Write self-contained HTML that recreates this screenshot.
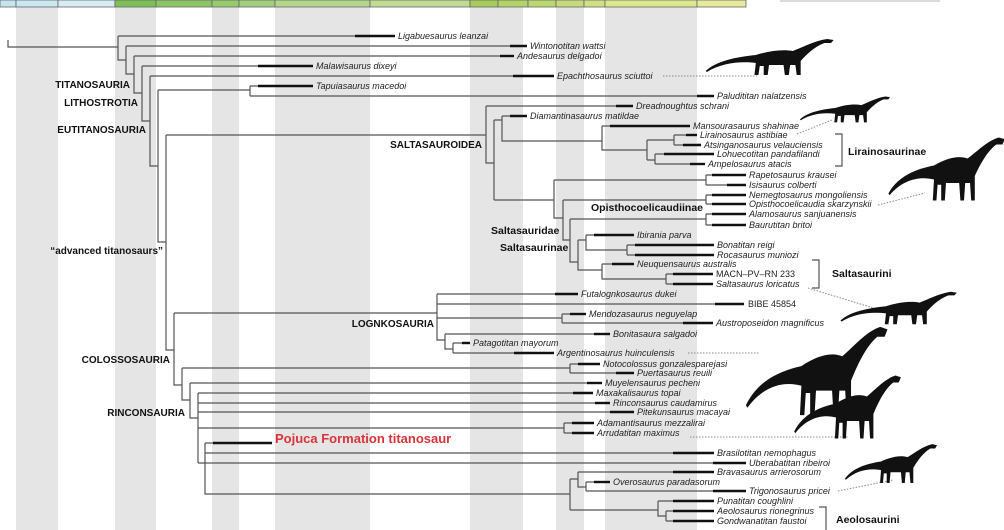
<!DOCTYPE html>
<html><head><meta charset="utf-8">
<style>
html,body{margin:0;padding:0;background:#fff;}
svg{display:block;}
.t{stroke:#555;stroke-width:1.2;fill:none;}
.k{stroke:#111;stroke-width:2.4;}
.d{stroke:#888;stroke-width:1;stroke-dasharray:1.5 1.5;fill:none;}
text{font-family:"Liberation Sans",sans-serif;}
.n{font-size:9px;font-style:italic;fill:#222;}
.r{font-size:9px;fill:#222;}
.c{font-size:10px;font-weight:bold;fill:#111;}
.cm{font-size:10.5px;font-weight:bold;fill:#111;}
</style></head><body>
<svg width="1004" height="530" viewBox="0 0 1004 530" xmlns="http://www.w3.org/2000/svg">
<defs>
<path id="sp" d="M2,34 C10,24 25,20 40,18 C50,14 60,12 68,14 C76,10 84,4 94,2 L99,3 L97,6 L92,6 C84,10 78,18 74,24 L74,38 L71,38 L70,28 L66,28 L65,38 L62,38 L61,28 L50,28 L49,38 L46,38 L46,29 L43,29 L42,38 L39,38 L40,26 C28,24 14,26 3,35 Z"/>
</defs>
<!-- stripes -->
<g fill="#e5e5e5">
<rect x="16" y="7" width="42" height="523"/>
<rect x="115" y="7" width="41" height="523"/>
<rect x="212" y="7" width="27" height="523"/>
<rect x="275" y="7" width="95" height="523"/>
<rect x="470" y="7" width="53" height="523"/>
<rect x="556" y="7" width="28" height="523"/>
<rect x="605" y="7" width="92" height="523"/>
</g>
<!-- top bar -->
<g stroke="#666" stroke-width="0.8">
<rect x="0" y="0" width="16" height="7" fill="#c6e3ee"/>
<rect x="16" y="0" width="42" height="7" fill="#cbe7f0"/>
<rect x="58" y="0" width="57" height="7" fill="#d6ebf3"/>
<rect x="115" y="0" width="41" height="7" fill="#7fbf5a"/>
<rect x="156" y="0" width="56" height="7" fill="#8cc566"/>
<rect x="212" y="0" width="27" height="7" fill="#97c96f"/>
<rect x="239" y="0" width="36" height="7" fill="#a2cf7c"/>
<rect x="275" y="0" width="95" height="7" fill="#b3d68a"/>
<rect x="370" y="0" width="100" height="7" fill="#c0dc93"/>
<rect x="470" y="0" width="28" height="7" fill="#a8cc5c"/>
<rect x="498" y="0" width="30" height="7" fill="#b4d268"/>
<rect x="528" y="0" width="28" height="7" fill="#bcd672"/>
<rect x="556" y="0" width="28" height="7" fill="#c6da7d"/>
<rect x="584" y="0" width="21" height="7" fill="#cfe085"/>
<rect x="605" y="0" width="92" height="7" fill="#dce88f"/>
<rect x="697" y="0" width="49" height="7" fill="#e6eb9c"/>
</g>
<rect x="780" y="0" width="160" height="2" fill="#ddd"/>

<!-- tree skeleton -->
<path class="t" d="
M8,40 V47 H118
M118,36 V60 H126
M126,46 V74 H134
M134,56 V93 H142
M142,66 V121 H150
M150,76 V166 H158
M158,90 V242 H166
M158,90 H250 M250,86 V96
M166,135 V350 H174
M166,135 H486
M486,106 V163 H494
M494,120 V200
M494,120 H502 M502,116 V141 H602
M602,126 V150 H647
M647,140 V160
M647,140 H674 M674,135 V145
M647,160 H655 M655,154 V164
M494,200 H554 M554,180 V218 H563
M554,180 H706 M706,175 V185
M563,200 V240 H570
M563,200 H706 M706,195 V204
M570,219 V262 H578
M570,219 H706 M706,214 V225
M578,240 V270 H602
M578,240 H586 M586,235 V250 H627 M627,245 V255
M602,264 V279 H666 M666,274 V284
M174,313 V385 H182
M174,313 H437 M437,294 V340 H445
M437,318 H562 M562,314 V323
M445,334 V349 H453 M453,343 V353
M182,368 V400 H190
M182,368 H570 M570,364 V373
M190,383 V418 H198
M198,393 V463
M198,428 H564 M564,423 V433
M205,443 V494 H570
M570,479 V510
M570,479 H578 M578,472 V487 H586 M586,482 V491
M570,510 H658 M658,501 V516 H666 M666,511 V521
"/>

<!-- tips: thin + thick -->
<g class="t">
<line x1="118" y1="36" x2="395" y2="36"/>
<line x1="126" y1="46" x2="527" y2="46"/>
<line x1="134" y1="56" x2="514" y2="56"/>
<line x1="142" y1="66" x2="313" y2="66"/>
<line x1="150" y1="76" x2="554" y2="76"/>
<line x1="250" y1="86" x2="313" y2="86"/>
<line x1="250" y1="96" x2="714" y2="96"/>
<line x1="486" y1="106" x2="633" y2="106"/>
<line x1="502" y1="116" x2="527" y2="116"/>
<line x1="602" y1="126" x2="690" y2="126"/>
<line x1="674" y1="135" x2="697" y2="135"/>
<line x1="674" y1="145" x2="701" y2="145"/>
<line x1="655" y1="154" x2="714" y2="154"/>
<line x1="655" y1="164" x2="705" y2="164"/>
<line x1="706" y1="175" x2="746" y2="175"/>
<line x1="706" y1="185" x2="746" y2="185"/>
<line x1="706" y1="195" x2="746" y2="195"/>
<line x1="706" y1="204" x2="746" y2="204"/>
<line x1="706" y1="214" x2="746" y2="214"/>
<line x1="706" y1="225" x2="746" y2="225"/>
<line x1="586" y1="235" x2="634" y2="235"/>
<line x1="627" y1="245" x2="714" y2="245"/>
<line x1="627" y1="255" x2="714" y2="255"/>
<line x1="602" y1="264" x2="634" y2="264"/>
<line x1="666" y1="274" x2="713" y2="274"/>
<line x1="666" y1="284" x2="713" y2="284"/>
<line x1="437" y1="294" x2="578" y2="294"/>
<line x1="437" y1="304" x2="744" y2="304"/>
<line x1="562" y1="314" x2="586" y2="314"/>
<line x1="562" y1="323" x2="713" y2="323"/>
<line x1="445" y1="334" x2="610" y2="334"/>
<line x1="453" y1="343" x2="470" y2="343"/>
<line x1="453" y1="353" x2="554" y2="353"/>
<line x1="570" y1="364" x2="600" y2="364"/>
<line x1="570" y1="373" x2="634" y2="373"/>
<line x1="190" y1="383" x2="602" y2="383"/>
<line x1="198" y1="393" x2="593" y2="393"/>
<line x1="198" y1="403" x2="610" y2="403"/>
<line x1="198" y1="412" x2="634" y2="412"/>
<line x1="564" y1="423" x2="594" y2="423"/>
<line x1="564" y1="433" x2="594" y2="433"/>
<line x1="205" y1="443" x2="272" y2="443"/>
<line x1="205" y1="453" x2="714" y2="453"/>
<line x1="198" y1="463" x2="746" y2="463"/>
<line x1="578" y1="472" x2="714" y2="472"/>
<line x1="586" y1="482" x2="610" y2="482"/>
<line x1="586" y1="491" x2="746" y2="491"/>
<line x1="658" y1="501" x2="714" y2="501"/>
<line x1="666" y1="511" x2="714" y2="511"/>
<line x1="666" y1="521" x2="714" y2="521"/>
</g>
<g class="k">
<line x1="355" y1="36" x2="395" y2="36"/>
<line x1="510" y1="46" x2="527" y2="46"/>
<line x1="500" y1="56" x2="514" y2="56"/>
<line x1="258" y1="66" x2="313" y2="66"/>
<line x1="513" y1="76" x2="554" y2="76"/>
<line x1="258" y1="86" x2="313" y2="86"/>
<line x1="697" y1="96" x2="714" y2="96"/>
<line x1="616" y1="106" x2="633" y2="106"/>
<line x1="510" y1="116" x2="527" y2="116"/>
<line x1="610" y1="126" x2="690" y2="126"/>
<line x1="686" y1="135" x2="697" y2="135"/>
<line x1="683" y1="145" x2="701" y2="145"/>
<line x1="664" y1="154" x2="714" y2="154"/>
<line x1="690" y1="164" x2="705" y2="164"/>
<line x1="712" y1="175" x2="746" y2="175"/>
<line x1="727" y1="185" x2="746" y2="185"/>
<line x1="712" y1="195" x2="746" y2="195"/>
<line x1="712" y1="204" x2="746" y2="204"/>
<line x1="712" y1="214" x2="746" y2="214"/>
<line x1="712" y1="225" x2="746" y2="225"/>
<line x1="594" y1="235" x2="634" y2="235"/>
<line x1="635" y1="245" x2="714" y2="245"/>
<line x1="635" y1="255" x2="714" y2="255"/>
<line x1="612" y1="264" x2="634" y2="264"/>
<line x1="673" y1="274" x2="713" y2="274"/>
<line x1="673" y1="284" x2="713" y2="284"/>
<line x1="555" y1="294" x2="578" y2="294"/>
<line x1="715" y1="304" x2="744" y2="304"/>
<line x1="570" y1="314" x2="586" y2="314"/>
<line x1="683" y1="323" x2="713" y2="323"/>
<line x1="594" y1="334" x2="610" y2="334"/>
<line x1="462" y1="343" x2="470" y2="343"/>
<line x1="514" y1="353" x2="554" y2="353"/>
<line x1="578" y1="364" x2="600" y2="364"/>
<line x1="616" y1="373" x2="634" y2="373"/>
<line x1="587" y1="383" x2="602" y2="383"/>
<line x1="573" y1="393" x2="593" y2="393"/>
<line x1="595" y1="403" x2="610" y2="403"/>
<line x1="610" y1="412" x2="634" y2="412"/>
<line x1="572" y1="423" x2="594" y2="423"/>
<line x1="572" y1="433" x2="594" y2="433"/>
<line x1="213" y1="443" x2="272" y2="443"/>
<line x1="673" y1="453" x2="714" y2="453"/>
<line x1="713" y1="463" x2="746" y2="463"/>
<line x1="673" y1="472" x2="714" y2="472"/>
<line x1="594" y1="482" x2="610" y2="482"/>
<line x1="713" y1="491" x2="746" y2="491"/>
<line x1="673" y1="501" x2="714" y2="501"/>
<line x1="673" y1="511" x2="714" y2="511"/>
<line x1="673" y1="521" x2="714" y2="521"/>
</g>

<!-- tip labels -->
<g class="n">
<text x="398" y="39">Ligabuesaurus leanzai</text>
<text x="530" y="49">Wintonotitan wattsi</text>
<text x="517" y="59">Andesaurus delgadoi</text>
<text x="316" y="69">Malawisaurus dixeyi</text>
<text x="557" y="79">Epachthosaurus sciuttoi</text>
<text x="316" y="89">Tapuiasaurus macedoi</text>
<text x="717" y="99">Paludititan nalatzensis</text>
<text x="636" y="109">Dreadnoughtus schrani</text>
<text x="530" y="119">Diamantinasaurus matildae</text>
<text x="693" y="129">Mansourasaurus shahinae</text>
<text x="700" y="138">Lirainosaurus astibiae</text>
<text x="704" y="148">Atsinganosaurus velauciensis</text>
<text x="717" y="157">Lohuecotitan pandafilandi</text>
<text x="708" y="167">Ampelosaurus atacis</text>
<text x="749" y="178">Rapetosaurus krausei</text>
<text x="749" y="188">Isisaurus colberti</text>
<text x="749" y="198">Nemegtosaurus mongoliensis</text>
<text x="749" y="207">Opisthocoelicaudia skarzynskii</text>
<text x="749" y="217">Alamosaurus sanjuanensis</text>
<text x="749" y="228">Baurutitan britoi</text>
<text x="637" y="238">Ibirania parva</text>
<text x="717" y="248">Bonatitan reigi</text>
<text x="717" y="258">Rocasaurus muniozi</text>
<text x="637" y="267">Neuquensaurus australis</text>
<text x="716" y="287">Saltasaurus loricatus</text>
<text x="581" y="297">Futalognkosaurus dukei</text>
<text x="589" y="317">Mendozasaurus neguyelap</text>
<text x="716" y="326">Austroposeidon magnificus</text>
<text x="613" y="337">Bonitasaura salgadoi</text>
<text x="473" y="346">Patagotitan mayorum</text>
<text x="557" y="356">Argentinosaurus huinculensis</text>
<text x="603" y="367">Notocolossus gonzalesparejasi</text>
<text x="637" y="376">Puertasaurus reuili</text>
<text x="605" y="386">Muyelensaurus pecheni</text>
<text x="596" y="396">Maxakalisaurus topai</text>
<text x="613" y="406">Rinconsaurus caudamirus</text>
<text x="637" y="415">Pitekunsaurus macayai</text>
<text x="597" y="426">Adamantisaurus mezzalirai</text>
<text x="597" y="436">Arrudatitan maximus</text>
<text x="717" y="456">Brasilotitan nemophagus</text>
<text x="749" y="466">Uberabatitan ribeiroi</text>
<text x="717" y="475">Bravasaurus arrierosorum</text>
<text x="613" y="485">Overosaurus paradasorum</text>
<text x="749" y="494">Trigonosaurus pricei</text>
<text x="717" y="504">Punatitan coughlini</text>
<text x="717" y="514">Aeolosaurus rionegrinus</text>
<text x="717" y="524">Gondwanatitan faustoi</text>
</g>
<text class="r" x="716" y="277">MACN–PV–RN 233</text>
<text class="r" x="748" y="307">BIBE 45854</text>
<text x="275" y="443" style="font-size:13px;font-weight:bold;fill:#d8343a">Pojuca Formation titanosaur</text>

<!-- clade labels -->
<g class="c" text-anchor="end">
<text x="130" y="88">TITANOSAURIA</text>
<text x="138" y="106">LITHOSTROTIA</text>
<text x="146" y="133">EUTITANOSAURIA</text>
<text x="163" y="254">“advanced titanosaurs”</text>
<text x="482" y="148">SALTASAUROIDEA</text>
<text x="434" y="327">LOGNKOSAURIA</text>
<text x="170" y="363">COLOSSOSAURIA</text>
<text x="185" y="416">RINCONSAURIA</text>
</g>
<g class="cm">
<text x="491" y="234">Saltasauridae</text>
<text x="500" y="251">Saltasaurinae</text>
<text x="591" y="211">Opisthocoelicaudiinae</text>
<text x="848" y="155">Lirainosaurinae</text>
<text x="832" y="277">Saltasaurini</text>
<text x="836" y="523">Aeolosaurini</text>
</g>

<!-- brackets -->
<path class="t" d="M835,134 H842 V166 H835 M812,260 H819 V288 H812 M819,507 H826 V530"/>

<!-- dotted -->
<path class="d" d="M663,76 H757 M797,134 L832,120 M878,205 L925,193 M808,288 L880,310 M688,353 H760 M690,437 H848 M838,491 L893,480"/>

<!-- silhouettes -->
<g fill="#111">
<use href="#sp" transform="translate(703,37) scale(1.32,1.0)"/>
<use href="#sp" transform="translate(798,95) scale(0.93,0.72)"/>
<use href="#sp" transform="translate(886,134) scale(1.2,1.75)"/>
<use href="#sp" transform="translate(838,290) scale(1.2,0.9)"/>
<use href="#sp" transform="translate(743,322) scale(1.46,2.45)"/>
<use href="#sp" transform="translate(792,372) scale(1.1,1.75)"/>
<use href="#sp" transform="translate(843,442) scale(0.95,1.08)"/>
</g>
</svg>
</body></html>
